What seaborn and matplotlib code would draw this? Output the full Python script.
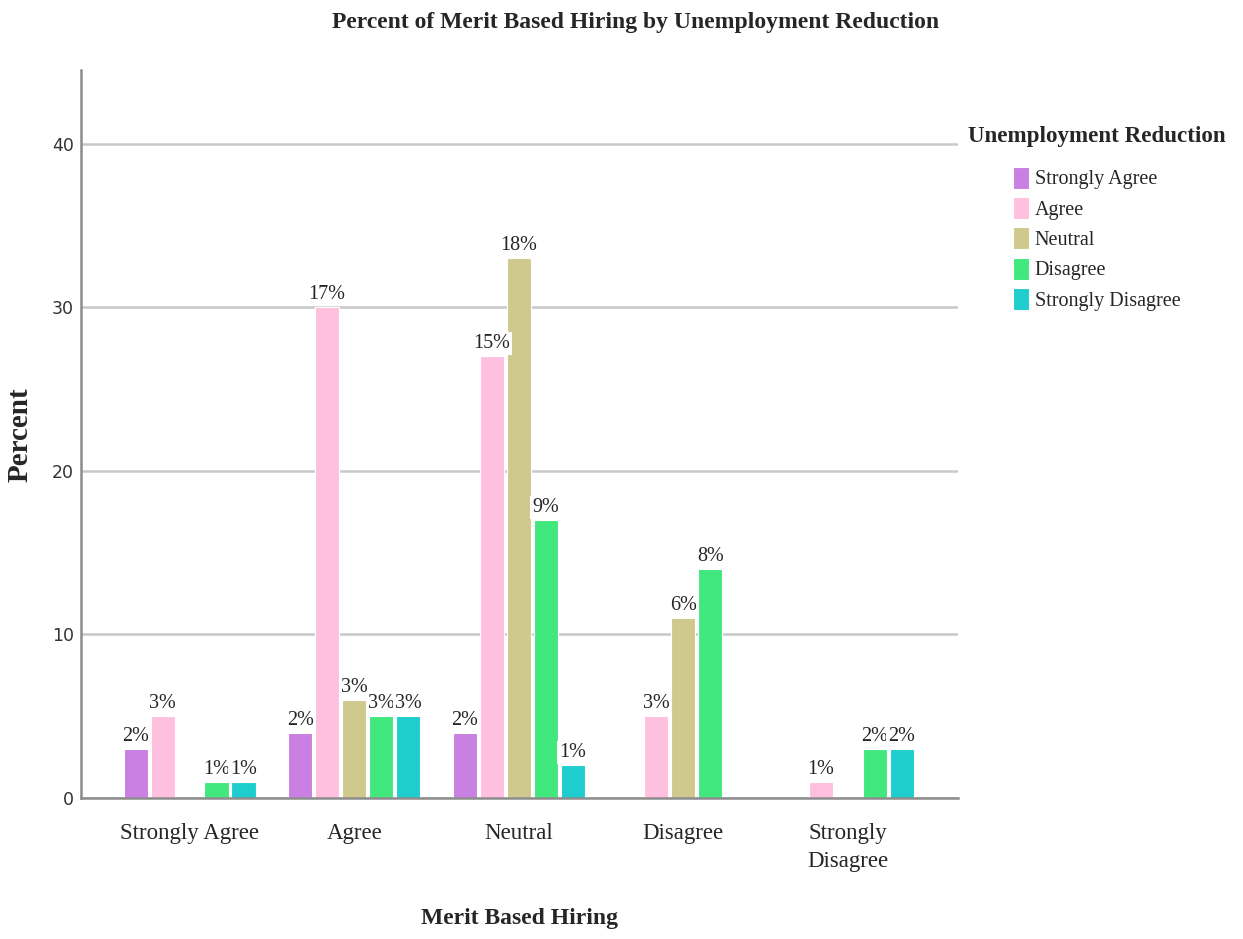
import matplotlib
matplotlib.use("Agg")
import matplotlib.pyplot as plt
import seaborn as sns
import pandas as pd

# Responses to "Merit Based Hiring" (x) split by "Unemployment Reduction" (hue); bar heights are counts
categories = ["Strongly Agree", "Agree", "Neutral", "Disagree", "Strongly Disagree"]
tick_labels = ["Strongly Agree", "Agree", "Neutral", "Disagree", "Strongly\nDisagree"]
hue_levels = ["Strongly Agree", "Agree", "Neutral", "Disagree", "Strongly Disagree"]
strongly_agree = [3, 4, 4, 0, 0]
agree = [5, 30, 27, 5, 1]
neutral = [0, 6, 33, 11, 0]
disagree = [1, 5, 17, 14, 3]
strongly_disagree = [1, 5, 2, 0, 3]
colors = ["#C980E2", "#FFC0DF", "#CFC98E", "#40E87E", "#1ECDCD"]

series = [strongly_agree, agree, neutral, disagree, strongly_disagree]
rows = []
for level, vals in zip(hue_levels, series):
    for cat, v in zip(categories, vals):
        rows.append({"Merit Based Hiring": cat, "Unemployment Reduction": level, "Count": v})
df = pd.DataFrame(rows)
total = df["Count"].sum()

sns.set_style("white")
serif = ["Liberation Serif", "DejaVu Serif"]

fig = plt.figure(figsize=(12.43, 9.39), dpi=100)
ax = fig.add_axes([0.0652, 0.1502, 0.7055, 0.7753])

sns.barplot(data=df, x="Merit Based Hiring", y="Count", hue="Unemployment Reduction",
            order=categories, hue_order=hue_levels, palette=colors, saturation=1,
            width=0.82, gap=0.1, linewidth=0.8, edgecolor="white", ax=ax)

ax.set_ylim(0, 44.5)
ax.set_xlim(-0.66, 4.67)
ax.set_yticks([0, 10, 20, 30, 40])
ax.yaxis.grid(True, color="#c8c8c8", linewidth=1.8)
ax.set_axisbelow(True)
for side in ["top", "right"]:
    ax.spines[side].set_visible(False)
for side in ["left", "bottom"]:
    ax.spines[side].set_color("#8c8c8c")
    ax.spines[side].set_linewidth(1.8)

ax.tick_params(axis="y", length=0, pad=5, labelsize=12.5, labelcolor="#333333")
ax.tick_params(axis="x", length=0, pad=18)
ax.set_xticks(range(len(categories)))
ax.set_xticklabels(tick_labels, fontfamily=serif, fontsize=16.5, linespacing=1.45)

# Percentage labels above each nonzero bar
for container in ax.containers:
    labels = []
    for bar in container:
        h = bar.get_height()
        labels.append(f"{round(h / total * 100):.0f}%" if h > 0 else "")
    ax.bar_label(container, labels=labels, padding=2, fontsize=14.5, fontfamily=serif,
                 bbox=dict(facecolor="white", edgecolor="none", pad=1.5))

ax.set_xlabel("Merit Based Hiring", fontfamily=serif, fontsize=17, fontweight="bold", va="center")
ax.set_ylabel("Percent", fontfamily=serif, fontsize=21, fontweight="bold", va="center")
ax.xaxis.set_label_coords(0.5, -0.165)
ax.yaxis.set_label_coords(-0.0696, 0.4986)

fig.text(0.511, 0.976, "Percent of Merit Based Hiring by Unemployment Reduction",
         ha="center", va="center", fontfamily=serif, fontsize=17, fontweight="bold")

leg = ax.legend(title="Unemployment Reduction", loc="upper left",
                bbox_to_anchor=(0.764, 0.885), bbox_transform=fig.transFigure,
                frameon=False, prop={"family": serif, "size": 14.5},
                handlelength=0.8, handleheight=1.3, handletextpad=0.3, labelspacing=0.38)
leg.get_title().set_fontfamily(serif)
leg.get_title().set_fontsize(16.6)
leg.get_title().set_fontweight("bold")
leg._legend_box.sep = 14

fig.savefig("out.png", dpi=100)
